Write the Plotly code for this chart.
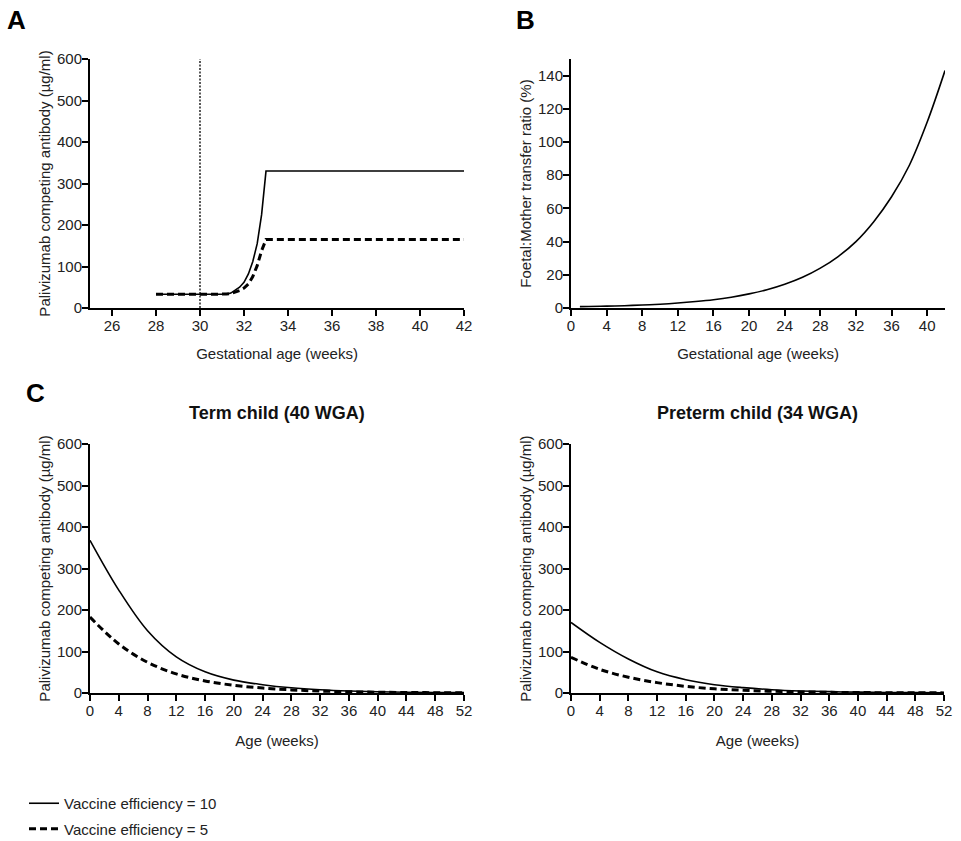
import plotly.graph_objects as go

W, H = 961, 841
FONT = "Liberation Sans, Arial, sans-serif"

# ---- Data ----
# Panel A: antibody level in foetus vs gestational age
a_weeks = [28, 31, 31.2, 31.4, 31.6, 31.8, 32.0, 32.2, 32.4, 32.6, 32.8, 32.9, 33, 42]
a_eff10 = [33, 33, 33.5, 36, 42, 50, 62, 82, 112, 155, 225, 272, 330, 330]
a_eff5 = [33, 33, 33.5, 35, 38, 42, 48, 58, 76, 102, 138, 152, 165, 165]
a_vacc_week = [30, 30]
a_vacc_range = [0, 600]

# Panel B: foetal:mother transfer ratio
b_weeks = [1, 2, 4, 6, 8, 10, 12, 14, 16, 18, 20, 22, 24, 26, 28, 30, 32, 34, 36, 38, 40, 42]
b_ratio = [0.8, 0.9, 1.1, 1.4, 1.8, 2.3, 3.0, 3.9, 5.0, 6.5, 8.5, 11.0, 14.3, 18.5,
           24, 31, 40, 52, 67, 86, 112, 143]

# Panel C: decay after birth
c_age = [0, 4, 8, 12, 16, 20, 24, 28, 32, 36, 40, 44, 48, 52]
term_eff10 = [368, 248, 150, 87, 51, 31, 20, 12.5, 7.8, 4.8, 3.0, 1.9, 1.2, 0.8]
term_eff5 = [183, 118, 74, 46, 29, 18.5, 12, 7.5, 4.7, 3.0, 1.9, 1.2, 0.8, 0.5]
pre_eff10 = [170, 122, 82, 51, 32, 20, 13, 8, 5, 3.2, 2, 1.3, 0.8, 0.5]
pre_eff5 = [86, 57, 38, 25, 16, 10, 6.5, 4.2, 2.7, 1.7, 1.1, 0.7, 0.45, 0.3]

legend_names = ["Vaccine efficiency = 10", "Vaccine efficiency = 5"]

solid = dict(color="black", width=1.6)
dashed = dict(color="black", width=3, dash="7px,4px")


def px_x(p):
    return p / W


def px_y(p):
    return 1 - p / H


fig = go.Figure()

# Panel A
fig.add_trace(go.Scatter(x=a_vacc_week, y=a_vacc_range, mode="lines",
                         line=dict(color="black", width=1.3, dash="2px,1.5px"),
                         showlegend=False, xaxis="x", yaxis="y"))
fig.add_trace(go.Scatter(x=a_weeks, y=a_eff10, mode="lines", line=solid,
                         name=legend_names[0], legendgroup="g1", showlegend=True,
                         xaxis="x", yaxis="y"))
fig.add_trace(go.Scatter(x=a_weeks, y=a_eff5, mode="lines", line=dashed,
                         name=legend_names[1], legendgroup="g2", showlegend=True,
                         xaxis="x", yaxis="y"))

# Panel B
fig.add_trace(go.Scatter(x=b_weeks, y=b_ratio, mode="lines", line=solid, line_shape="spline",
                         showlegend=False, xaxis="x2", yaxis="y2"))

# Panel C left
fig.add_trace(go.Scatter(x=c_age, y=term_eff10, mode="lines", line=solid, line_shape="spline",
                         showlegend=False, xaxis="x3", yaxis="y3"))
fig.add_trace(go.Scatter(x=c_age, y=term_eff5, mode="lines", line=dashed, line_shape="spline",
                         showlegend=False, xaxis="x3", yaxis="y3"))
# Panel C right
fig.add_trace(go.Scatter(x=c_age, y=pre_eff10, mode="lines", line=solid, line_shape="spline",
                         showlegend=False, xaxis="x4", yaxis="y4"))
fig.add_trace(go.Scatter(x=c_age, y=pre_eff5, mode="lines", line=dashed, line_shape="spline",
                         showlegend=False, xaxis="x4", yaxis="y4"))

tickfont = dict(family=FONT, size=15, color="#222")
titlefont = dict(family=FONT, size=15, color="#222")

axis_common = dict(showline=True, linecolor="black", linewidth=2, ticks="outside",
                   ticklen=6, tickwidth=1.8, tickcolor="black", showgrid=False,
                   zeroline=False, tickfont=tickfont, fixedrange=True, automargin=False)
xcommon = dict(axis_common, ticklabelstandoff=-3)
ycommon = dict(axis_common, ticklabelstandoff=-3)

yt = "Palivizumab competing antibody (µg/ml)"

layout_axes = dict(
    xaxis=dict(xcommon, domain=[px_x(90), px_x(464)], range=[25, 42],
               tickvals=[26, 28, 30, 32, 34, 36, 38, 40, 42], anchor="y",
               title=dict(text="Gestational age (weeks)", font=titlefont, standoff=15)),
    yaxis=dict(ycommon, domain=[px_y(308), px_y(59)], range=[0, 600],
               tickvals=[0, 100, 200, 300, 400, 500, 600], anchor="x",
               title=dict(text=yt, font=titlefont, standoff=3)),
    xaxis2=dict(xcommon, domain=[px_x(571), px_x(945)], range=[0, 42],
                tickvals=list(range(0, 41, 4)), anchor="y2",
                title=dict(text="Gestational age (weeks)", font=titlefont, standoff=15)),
    yaxis2=dict(ycommon, domain=[px_y(308), px_y(59)], range=[0, 150],
                tickvals=list(range(0, 141, 20)), anchor="x2",
                title=dict(text="Foetal:Mother transfer ratio (%)", font=titlefont, standoff=3)),
    xaxis3=dict(xcommon, domain=[px_x(90), px_x(464)], range=[0, 52],
                tickvals=list(range(0, 53, 4)), anchor="y3",
                title=dict(text="Age (weeks)", font=titlefont, standoff=17)),
    yaxis3=dict(ycommon, domain=[px_y(693), px_y(444)], range=[0, 600],
                tickvals=[0, 100, 200, 300, 400, 500, 600], anchor="x3",
                title=dict(text=yt, font=titlefont, standoff=3)),
    xaxis4=dict(xcommon, domain=[px_x(571), px_x(944)], range=[0, 52],
                tickvals=list(range(0, 53, 4)), anchor="y4",
                title=dict(text="Age (weeks)", font=titlefont, standoff=17)),
    yaxis4=dict(ycommon, domain=[px_y(693), px_y(444)], range=[0, 600],
                tickvals=[0, 100, 200, 300, 400, 500, 600], anchor="x4",
                title=dict(text=yt, font=titlefont, standoff=3)),
)

annotations = [
    dict(text="<b>A</b>", x=px_x(5), y=px_y(20), xanchor="left", yanchor="middle",
         font=dict(family=FONT, size=26, color="black")),
    dict(text="<b>B</b>", x=px_x(514), y=px_y(20), xanchor="left", yanchor="middle",
         font=dict(family=FONT, size=26, color="black")),
    dict(text="<b>C</b>", x=px_x(24), y=px_y(393), xanchor="left", yanchor="middle",
         font=dict(family=FONT, size=26, color="black")),
    dict(text="<b>Term child (40 WGA)</b>", x=px_x(277), y=px_y(413), xanchor="center",
         yanchor="middle", font=dict(family=FONT, size=18, color="#111")),
    dict(text="<b>Preterm child (34 WGA)</b>", x=px_x(757), y=px_y(413), xanchor="center",
         yanchor="middle", font=dict(family=FONT, size=18, color="#111")),
]
for a in annotations:
    a.update(xref="paper", yref="paper", showarrow=False)

fig.update_layout(
    width=W, height=H,
    margin=dict(l=0, r=0, t=0, b=0, autoexpand=False),
    paper_bgcolor="white", plot_bgcolor="white",
    font=dict(family=FONT, size=15, color="#222"),
    annotations=annotations,
    legend=dict(x=px_x(24), y=px_y(787), xanchor="left", yanchor="top",
                bgcolor="rgba(0,0,0,0)", font=dict(family=FONT, size=15, color="#222"),
                itemwidth=30, traceorder="grouped", tracegroupgap=3),
    **layout_axes,
)

fig.write_html("out.html")
